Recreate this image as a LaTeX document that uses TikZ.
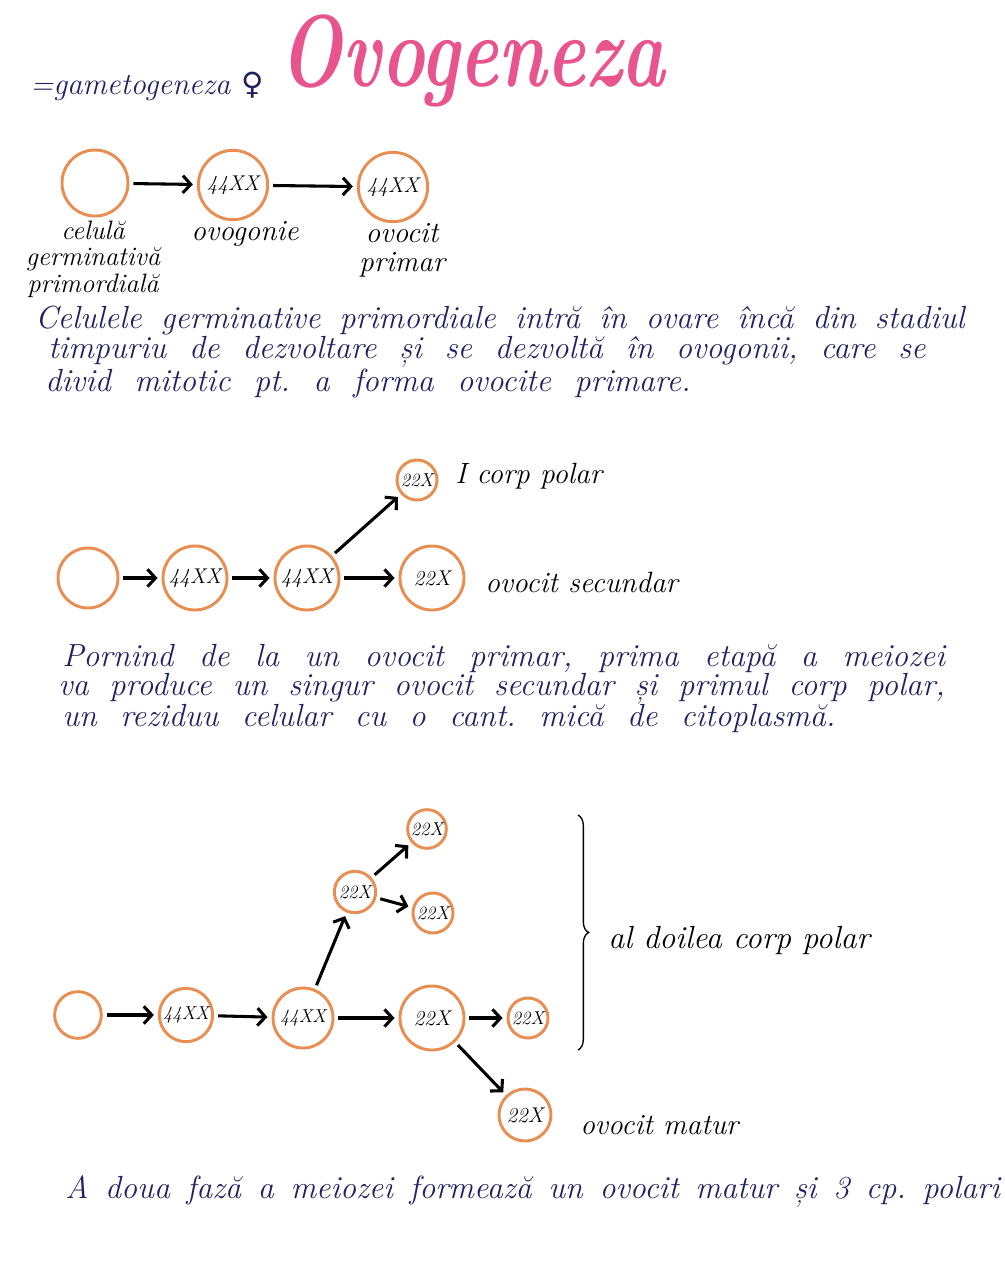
\documentclass[tikz,border=0pt]{standalone}
\usepackage{fontspec}
\usetikzlibrary{arrows.meta,decorations.pathreplacing}
\newfontfamily\symfont{DejaVu Sans}
\definecolor{cellorange}{RGB}{232,142,82}
\definecolor{titlepink}{RGB}{232,84,142}
\definecolor{navyink}{RGB}{34,34,98}
\frenchspacing
\begin{document}
\begin{tikzpicture}[x=0.75pt,y=-0.75pt,
  cell/.style={circle,draw=cellorange,line width=2.2pt,inner sep=0pt,text=black,font=\itshape\fontsize{16}{16}\selectfont},
  smallcell/.style={cell,font=\itshape\fontsize{14}{14}\selectfont},
  arr/.style={line width=2.3pt,-{Straight Barb[length=6pt,width=13pt]},shorten >=3pt,shorten <=3pt},
  lbl/.style={font=\itshape\fontsize{22}{22}\selectfont,text=black,inner sep=0pt},
  para/.style={anchor=west,inner sep=0pt,font=\itshape\fontsize{24}{24}\selectfont,text=navyink}]
\useasboundingbox[fill=white] (0,0) rectangle (1005,1265);

% title
\node[anchor=base,inner sep=0pt,text=titlepink,font=\bfseries\itshape\fontsize{58}{60}\selectfont] (title) at (472,86) {\scalebox{0.95}[1.32]{Ovogeneza}};
\node[anchor=base west,inner sep=0pt,text=navyink,font=\itshape\fontsize{23}{24}\selectfont] (sub) at (30,94) {=gametogeneza {\symfont ♀}};

% section 1
\node[cell,minimum size=49.5pt] (a1) at (95,183) {};
\node[cell,minimum size=52pt] (a2) at (233,185) {44XX};
\node[cell,minimum size=52pt] (a3) at (393,187) {44XX};
\draw[arr] (a1) -- (a2);
\draw[arr] (a2) -- (a3);
\node[lbl,align=center,font=\itshape\fontsize{20}{20}\selectfont] (la1) at (93,259) {celulă\\germinativă\\primordială};
\node[lbl] (la2) at (245,234) {ovogonie};
\node[lbl,align=center] (la3) at (402,250) {ovocit\\primar};

\node[para] (p1a) at (35,320) {\makebox[697pt][s]{Celulele germinative primordiale intră în ovare încă din stadiul}};
\node[para] (p1b) at (48,352) {\makebox[658pt][s]{timpuriu de dezvoltare și se dezvoltă în ovogonii, care se}};
\node[para] (p1c) at (45,383) {\makebox[484pt][s]{divid mitotic pt. a forma ovocite primare.}};

% section 2
\node[cell,minimum size=45pt] (b1) at (88,578) {};
\node[cell,minimum size=48pt] (b2) at (195,578) {44XX};
\node[cell,minimum size=48pt] (b3) at (307,578) {44XX};
\node[cell,minimum size=48pt] (b4) at (432,578) {22X};
\node[smallcell,minimum size=30pt] (b5) at (417,480) {22X};
\draw[arr] (b1) -- (b2);
\draw[arr] (b2) -- (b3);
\draw[arr] (b3) -- (b4);
\draw[arr] (b3) -- (b5);
\node[lbl,anchor=west] (lb5) at (455,476) {I corp polar};
\node[lbl,anchor=west] (lb4) at (485,582) {ovocit secundar};

\node[para] (p2a) at (62,658) {\makebox[662pt][s]{Pornind de la un ovocit primar, prima etapă a meiozei}};
\node[para] (p2b) at (58,689) {\makebox[665pt][s]{va produce un singur ovocit secundar și primul corp polar,}};
\node[para] (p2c) at (62,718) {\makebox[580pt][s]{un reziduu celular cu o cant. mică de citoplasmă.}};

% section 3
\node[cell,minimum size=35pt] (c1) at (78,1015) {};
\node[smallcell,minimum size=40pt] (c2) at (186,1015) {44XX};
\node[smallcell,minimum size=45pt] (c3) at (303,1018) {44XX};
\node[cell,minimum size=48pt] (c4) at (432,1018) {22X};
\node[smallcell,minimum size=30pt] (c5) at (528,1018) {22X};
\node[smallcell,minimum size=31pt] (c6) at (355,892) {22X};
\node[smallcell,minimum size=29pt] (c7) at (427,829) {22X};
\node[smallcell,minimum size=30pt] (c8) at (433,913) {22X};
\node[cell,minimum size=39pt] (c9) at (525,1115) {22X};
\draw[arr] (c1) -- (c2);
\draw[arr] (c2) -- (c3);
\draw[arr] (c3) -- (c4);
\draw[arr] (c3) -- (c6);
\draw[arr] (c6) -- (c7);
\draw[arr] (c6) -- (c8);
\draw[arr] (c4) -- (c5);
\draw[arr] (c4) -- (c9);

\coordinate (brTop) at (578,815);
\coordinate (brBot) at (578,1050);
\draw[line width=1pt,decorate,decoration={brace,amplitude=8pt}] (brTop) -- (brBot);
\node[lbl,anchor=west,font=\itshape\fontsize{24}{24}\selectfont] (lbr) at (608,940) {al doilea corp polar};
\node[lbl,anchor=west] (lc9) at (580,1125) {ovocit matur};

\node[para] (p3) at (65,1192) {\makebox[701pt][s]{A doua fază a meiozei formează un ovocit matur și 3 cp. polari}};
\end{tikzpicture}
\end{document}
